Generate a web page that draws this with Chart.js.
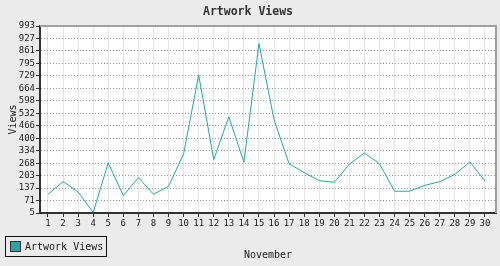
<!DOCTYPE html>
<html>
<head>
<meta charset="utf-8">
<script src="https://cdn.jsdelivr.net/npm/chart.js@4/dist/chart.umd.min.js"></script>
<style>
  html, body { margin: 0; padding: 0; background: #ebebeb; }
  canvas { display: block; }
</style>
</head>
<body>
<canvas id="viewsChart" width="500" height="266"></canvas>
<script>
// Datos
const days  = [1, 2, 3, 4, 5, 6, 7, 8, 9, 10, 11, 12, 13, 14, 15,
               16, 17, 18, 19, 20, 21, 22, 23, 24, 25, 26, 27, 28, 29, 30];
const views = [104, 171, 116, 8, 270, 97, 192, 104, 146, 317, 735, 287, 514, 273, 900,
               498, 265, 219, 176, 167, 263, 322, 265, 120, 120, 151, 171, 209, 275, 174];
const yTicks = [5, 71, 137, 203, 268, 334, 400, 466, 532, 598, 664, 729, 795, 861, 927, 993];

const teal = '#20aaa6';
const mono = "'DejaVu Sans Mono', 'Liberation Mono', monospace";

// Fondo blanco del área, borde superior/derecho gris y leyenda con recuadro
const frame = {
  id: 'frame',
  beforeDraw(chart) {
    const { ctx, chartArea: a } = chart;
    ctx.save();
    ctx.fillStyle = '#ebebeb';
    ctx.fillRect(0, 0, chart.width, chart.height);
    ctx.fillStyle = '#ffffff';
    ctx.fillRect(a.left, a.top, a.right - a.left, a.bottom - a.top);
    ctx.restore();
  },
  beforeDatasetsDraw(chart) {
    const { ctx, chartArea: a } = chart;
    ctx.save();
    ctx.strokeStyle = '#a0a0a0';
    ctx.lineWidth = 2;
    ctx.beginPath();
    ctx.moveTo(a.left, a.top);
    ctx.lineTo(a.right, a.top);
    ctx.lineTo(a.right, a.bottom);
    ctx.stroke();
    ctx.restore();
  },
  afterDraw(chart) {
    const { ctx } = chart;
    const ds = chart.data.datasets[0];
    ctx.save();
    ctx.strokeStyle = '#111';
    ctx.lineWidth = 1;
    ctx.strokeRect(5.5, 236.5, 101, 20);
    ctx.fillStyle = ds.borderColor;
    ctx.fillRect(10.5, 241.5, 10, 10);
    ctx.strokeStyle = '#333';
    ctx.strokeRect(10.5, 241.5, 10, 10);
    ctx.fillStyle = '#222';
    ctx.font = '10px ' + mono;
    ctx.textBaseline = 'middle';
    ctx.fillText(ds.label, 25, 247);
    ctx.restore();
  }
};

new Chart(document.getElementById('viewsChart'), {
  type: 'line',
  data: {
    datasets: [{
      label: 'Artwork Views',
      data: days.map((d, i) => ({ x: d, y: views[i] })),
      borderColor: teal,
      backgroundColor: teal,
      borderWidth: 1,
      pointRadius: 0,
      tension: 0,
      fill: false,
    }]
  },
  options: {
    responsive: false,
    animation: false,
    layout: { padding: { top: 0, right: 4, bottom: 0, left: 0 } },
    scales: {
      x: {
        type: 'linear',
        min: 0.47,
        max: 30.73,
        afterBuildTicks: ax => { ax.ticks = days.map(v => ({ value: v })); },
        afterFit: ax => { ax.height = 53; },
        grid: {
          color: '#e4e4e4',
          lineWidth: 1,
          tickColor: '#333',
          tickLength: 4,
        },
        border: { color: '#333', width: 2 },
        ticks: {
          color: '#222',
          padding: 1,
          maxRotation: 0,
          autoSkip: false,
          font: { family: mono, size: 9 },
          callback: v => String(v),
        },
        title: {
          display: true,
          text: 'November',
          color: '#222',
          font: { family: mono, size: 10 },
          padding: { top: 0, bottom: 5 },
        }
      },
      y: {
        type: 'linear',
        min: 5,
        max: 993,
        afterBuildTicks: ax => { ax.ticks = yTicks.map(v => ({ value: v })); },
        afterFit: ax => { ax.width = 40; },
        grid: {
          color: '#999',
          lineWidth: 1,
          tickColor: '#333',
          tickLength: 4,
        },
        border: { color: '#333', width: 2, dash: [1, 2] },
        ticks: {
          color: '#222',
          padding: 1,
          autoSkip: false,
          font: { family: mono, size: 9 },
          callback: v => String(v),
        },
        title: {
          display: true,
          text: 'Views',
          color: '#222',
          font: { family: mono, size: 10 },
          padding: { top: 7, bottom: 0 },
        }
      }
    },
    plugins: {
      legend: { display: false },
      tooltip: { enabled: false },
      title: {
        display: true,
        text: 'Artwork Views',
        color: '#333',
        font: { family: mono, size: 11.5, weight: 'bold' },
        padding: { top: 5, bottom: 7.2 },
      }
    }
  },
  plugins: [frame]
});
</script>
</body>
</html>
